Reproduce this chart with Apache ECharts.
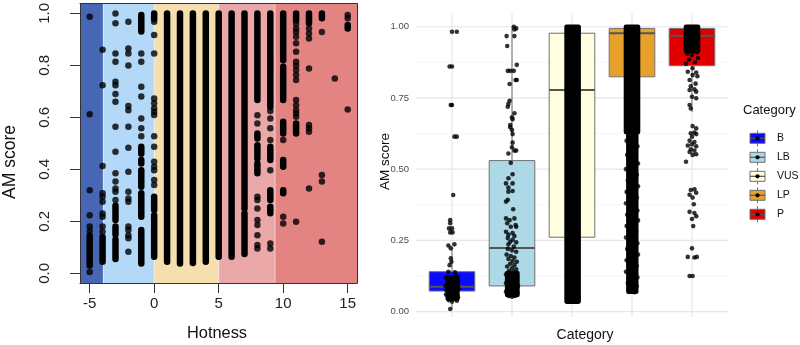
<!DOCTYPE html>
<html>
<head>
<meta charset="utf-8">
<title>AM score</title>
<script src="https://cdn.jsdelivr.net/npm/echarts@6/dist/echarts.min.js"></script>
<style>
  html, body { margin: 0; padding: 0; background: #fff; }
  #main { width: 800px; height: 345px; }
</style>
</head>
<body>
<div id="main"></div>
<script>
// ---- left panel: AM score against hotness ----
const hotnessTicks = [-5, 0, 5, 10, 15]
const amTicks = [0, 0.2, 0.4, 0.6, 0.8, 1.0]
const bandBreaks = [-3.95, 0, 5, 9.37] // hotness cut points of the coloured bands
// runs of overlapping points: [hotness, lowest score, highest score]
const hotRuns = [
  [-5, 0.03, 0.145],
  [-4, 0.045, 0.14],
  [-3, 0.205, 0.26], [-3, 0.15, 0.18], [-3, 0.055, 0.13],
  [-1, 0.93, 0.994], [-1, 0.46, 0.487], [-1, 0.423, 0.436], [-1, 0.333, 0.397], [-1, 0.218, 0.308], [-1, 0.038, 0.167],
  [0, 0.98, 1.0], [0, 0.244, 0.295], [0, 0.064, 0.224],
  [1, 0.045, 1.0], [2, 0.038, 1.0], [3, 0.04, 1.0], [4, 0.045, 1.0], [5, 0.064, 1.0], [6, 0.064, 1.0],
  [7, 0.25, 1.0], [7, 0.075, 0.23],
  [8, 0.667, 1.0], [8, 0.519, 0.538], [8, 0.442, 0.493], [8, 0.385, 0.423],
  [9, 0.64, 1.0], [9, 0.436, 0.487], [9, 0.282, 0.32], [9, 0.231, 0.256],
  [10, 0.82, 1.0], [10, 0.667, 0.795], [10, 0.538, 0.583], [10, 0.41, 0.436], [10, 0.308, 0.32],
  [11, 0.974, 1.0], [11, 0.538, 0.577],
  [12, 0.962, 1.0],
  [13, 0.981, 1.0],
  [15, 0.942, 0.955]
]
// single points: [hotness, score]
const hotPoints = [
  [-5, 0.987], [-5, 0.612], [-5, 0.32], [-5, 0.224], [-5, 0.18], [-5, 0.163], [-5, 0.005],
  [-4, 0.86], [-4, 0.724], [-4, 0.413], [-4, 0.308], [-4, 0.295], [-4, 0.276], [-4, 0.23], [-4, 0.218], [-4, 0.18], [-4, 0.16],
  [-3, 1.0], [-3, 0.962], [-3, 0.846], [-3, 0.814], [-3, 0.737], [-3, 0.724], [-3, 0.69], [-3, 0.66], [-3, 0.564],
  [-3, 0.468], [-3, 0.385], [-3, 0.353], [-3, 0.327], [-3, 0.314], [-3, 0.282],
  [-2, 0.968], [-2, 0.865], [-2, 0.846], [-2, 0.80], [-2, 0.644], [-2, 0.628], [-2, 0.564], [-2, 0.483], [-2, 0.391],
  [-2, 0.314], [-2, 0.288], [-2, 0.276], [-2, 0.18], [-2, 0.167], [-2, 0.147], [-2, 0.135], [-2, 0.083],
  [-1, 0.846], [-1, 0.814], [-1, 0.718], [-1, 0.68], [-1, 0.596], [-1, 0.558], [-1, 0.528],
  [0, 0.968], [0, 0.917], [0, 0.846], [0, 0.673], [0, 0.654], [0, 0.635], [0, 0.622], [0, 0.609], [0, 0.528],
  [0, 0.487], [0, 0.429], [0, 0.41], [0, 0.397], [0, 0.359], [0, 0.34],
  [8, 0.608], [8, 0.577], [8, 0.295], [8, 0.282], [8, 0.25], [8, 0.205], [8, 0.186], [8, 0.147], [8, 0.109], [8, 0.096],
  [9, 0.625], [9, 0.596], [9, 0.558], [9, 0.513], [9, 0.397], [9, 0.115], [9, 0.096],
  [10, 0.513], [10, 0.218], [10, 0.192],
  [11, 0.96], [11, 0.942], [11, 0.929], [11, 0.91], [11, 0.885], [11, 0.853], [11, 0.814], [11, 0.8], [11, 0.782],
  [11, 0.763], [11, 0.744], [11, 0.667], [11, 0.647], [11, 0.628], [11, 0.615], [11, 0.603], [11, 0.199],
  [12, 0.942], [12, 0.923], [12, 0.904], [12, 0.788], [12, 0.571], [12, 0.558], [12, 0.545], [12, 0.327],
  [13, 0.929], [13, 0.378], [13, 0.353], [13, 0.122],
  [14, 0.75],
  [15, 0.994], [15, 0.981], [15, 0.63]
]

// ---- right panel: AM score by category ----
const categories = ['B', 'LB', 'VUS', 'LP', 'P']
const scoreTicks = [0, 0.25, 0.5, 0.75, 1]
const scoreMinor = [0.125, 0.375, 0.625, 0.875]
// [low whisker, q1, median, q3, high whisker], same order as categories
const boxStats = [
  [0.009, 0.072, 0.087, 0.140, 0.228],
  [0.052, 0.090, 0.223, 0.530, 1.0],
  [0.035, 0.261, 0.778, 0.977, 1.0],
  [0.57, 0.824, 0.977, 0.994, 1.0],
  [0.70, 0.863, 0.968, 0.994, 1.0]
]
// jittered points: [offset from category centre, score]
const jitterB = [
  [0.0, 0.982], [0.08, 0.982], [-0.04, 0.86], [0.0, 0.86], [-0.02, 0.725], [0.0, 0.725], [0.04, 0.614], [0.08, 0.614],
  [0.02, 0.409], [-0.03, 0.321], [-0.03, 0.31], [-0.05, 0.292], [0.0, 0.292], [-0.03, 0.278], [0.01, 0.278],
  [-0.06, 0.232], [0.04, 0.236], [-0.02, 0.222], [-0.02, 0.187], [-0.01, 0.175], [-0.04, 0.163], [-0.06, 0.14],
  [0.05, 0.138], [-0.1, 0.12], [0.07, 0.125], [-0.11, 0.09], [0.11, 0.08], [-0.1, 0.06], [0.1, 0.05],
  [0.0, 0.035], [-0.05, 0.04], [0.08, 0.038], [0.1, 0.105], [-0.09, 0.075], [-0.03, 0.009]
]
const jitterLB = [
  [0.03, 1.0], [0.07, 0.994], [0.04, 0.99], [-0.09, 0.967], [0.04, 0.967], [-0.08, 0.932], [0.08, 0.866],
  [-0.07, 0.845], [-0.03, 0.845], [0.03, 0.845], [0.06, 0.813], [0.08, 0.813], [-0.04, 0.799], [-0.04, 0.74],
  [-0.06, 0.729], [-0.07, 0.719], [0.04, 0.696], [0.0, 0.682], [0.01, 0.675], [-0.03, 0.655], [-0.03, 0.647],
  [0.0, 0.637], [0.01, 0.623], [0.01, 0.593], [0.0, 0.577], [0.07, 0.565], [0.04, 0.565], [-0.06, 0.555],
  [-0.02, 0.522], [0.01, 0.482], [-0.06, 0.468], [-0.1, 0.45], [0.01, 0.45], [-0.06, 0.435], [-0.06, 0.421],
  [0.01, 0.423], [-0.1, 0.386], [-0.07, 0.392], [0.02, 0.359], [-0.1, 0.327], [0.04, 0.327], [-0.04, 0.321],
  [-0.08, 0.31], [0.06, 0.304], [-0.02, 0.298], [0.07, 0.298], [-0.1, 0.28], [0.01, 0.276], [-0.06, 0.27],
  [0.04, 0.265], [-0.07, 0.258], [0.01, 0.252], [-0.03, 0.245], [0.07, 0.243], [-0.06, 0.236], [0.03, 0.228],
  [-0.07, 0.22], [0.0, 0.215], [0.07, 0.21], [-0.09, 0.2], [-0.02, 0.195], [0.04, 0.19], [-0.06, 0.185],
  [0.01, 0.178], [0.08, 0.175], [-0.03, 0.168], [0.04, 0.163], [-0.08, 0.158], [0.0, 0.152], [0.07, 0.148],
  [-0.05, 0.142], [0.02, 0.138], [-0.1, 0.13], [0.06, 0.128], [-0.1, 0.1], [0.1, 0.09], [-0.1, 0.07],
  [0.09, 0.065], [0.0, 0.052], [-0.05, 0.055], [0.05, 0.055]
]
const jitterLP = [
  [-0.09, 0.6], [0.09, 0.58], [-0.08, 0.55], [0.1, 0.52], [-0.1, 0.5], [0.08, 0.48], [-0.07, 0.46], [0.1, 0.44],
  [-0.09, 0.42], [0.08, 0.4], [-0.1, 0.38], [0.09, 0.355], [-0.08, 0.34], [0.1, 0.32], [-0.09, 0.3], [0.07, 0.28],
  [-0.1, 0.26], [0.09, 0.24], [-0.08, 0.22], [0.1, 0.2], [-0.09, 0.18], [0.08, 0.16], [-0.1, 0.14], [0.09, 0.12],
  [-0.07, 0.1], [0.08, 0.09], [-0.05, 0.075], [0.04, 0.068]
]
const jitterP = [
  [-0.1, 0.87], [0.05, 0.875], [-0.05, 0.885], [0.1, 0.89], [0.0, 0.9], [-0.08, 0.905], [0.08, 0.91],
  [0.01, 0.854], [-0.07, 0.842], [0.07, 0.839], [0.01, 0.83], [0.09, 0.826], [-0.04, 0.813], [0.06, 0.80],
  [-0.02, 0.791], [-0.04, 0.778], [0.04, 0.78], [0.07, 0.772], [0.0, 0.754], [0.07, 0.749], [-0.04, 0.725],
  [-0.02, 0.713], [0.01, 0.651], [0.07, 0.643], [-0.02, 0.626], [0.04, 0.628], [0.07, 0.623], [0.0, 0.614],
  [-0.04, 0.60], [0.04, 0.595], [0.0, 0.587], [-0.07, 0.583], [0.07, 0.58], [-0.02, 0.57], [0.04, 0.565],
  [-0.04, 0.56], [0.01, 0.55], [0.07, 0.552], [-0.1, 0.526], [-0.02, 0.427], [0.04, 0.429], [0.07, 0.417],
  [0.01, 0.40], [-0.04, 0.41], [0.03, 0.377], [-0.04, 0.35], [0.04, 0.346], [0.07, 0.335], [0.0, 0.325],
  [0.02, 0.30], [0.0, 0.222], [-0.07, 0.192], [0.04, 0.19], [0.08, 0.192], [-0.04, 0.125], [0.01, 0.125]
]
// strips where jittered points merge: [category number, offset from, offset to, score from, score to]
const jitterDense = [
  [1, -0.07, 0.09, 0.045, 0.12],
  [2, -0.08, 0.09, 0.058, 0.135],
  [3, -0.09, 0.11, 0.035, 1.0],
  [4, -0.1, 0.1, 0.63, 1.0],
  [4, -0.06, 0.07, 0.07, 0.63],
  [5, -0.1, 0.1, 0.915, 1.0]
]

const FONT = '"Liberation Sans", Arial, Helvetica, sans-serif'
const bandColors = ['#4767b5', '#b3d8f8', '#f6dfae', '#eaa9a8', '#e38482']
const boxColors = ['#0a0aff', '#add8e6', '#ffffe0', '#e8a12a', '#e00000']

const hotMin = -5.75
const hotMax = 15.72
const edges = [hotMin].concat(bandBreaks, [hotMax])
const bands = edges.slice(0, -1).map((e, i) => [e, edges[i + 1], i])

const jitterAll = [jitterB, jitterLB, [], jitterLP, jitterP]
const jitterPoints = []
jitterAll.forEach((list, i) => {
  list.forEach(([off, v]) => jitterPoints.push([i + 1 + off, v]))
})

const gridLines = scoreTicks.map(v => [0, v, 1])
  .concat(scoreMinor.map(v => [0, v, 0]))
  .concat(categories.map((c, i) => [1, i + 1, 1]))

const chart = echarts.init(document.getElementById('main'), null, { renderer: 'canvas' })

const option = {
  animation: false,
  grid: [
    { left: 80, top: 3, width: 277, height: 280 },
    { left: 416, top: 13, width: 312, height: 304 }
  ],
  xAxis: [
    {
      gridIndex: 0, type: 'value', min: hotMin, max: hotMax, position: 'bottom', z: 10,
      axisLine: { show: true, onZero: false, lineStyle: { color: '#333', width: 1 } },
      axisTick: { show: true, length: 10, customValues: hotnessTicks, lineStyle: { color: '#333' } },
      axisLabel: { customValues: hotnessTicks, margin: 13, fontFamily: FONT, fontSize: 15, color: '#222', formatter: v => String(v) },
      splitLine: { show: false }
    },
    {
      gridIndex: 0, type: 'value', min: hotMin, max: hotMax, position: 'top', z: 10,
      axisLine: { show: true, onZero: false, lineStyle: { color: '#333', width: 1 } },
      axisTick: { show: false }, axisLabel: { show: false }, splitLine: { show: false }
    },
    {
      gridIndex: 1, type: 'value', min: 0.4, max: 5.6,
      axisLine: { show: false }, axisTick: { show: false }, axisLabel: { show: false }, splitLine: { show: false }
    }
  ],
  yAxis: [
    {
      gridIndex: 0, type: 'value', min: -0.037, max: 1.038, position: 'left', z: 10,
      axisLine: { show: true, onZero: false, lineStyle: { color: '#333', width: 1 } },
      axisTick: { show: true, length: 10, customValues: amTicks, lineStyle: { color: '#333' } },
      axisLabel: { customValues: amTicks, rotate: 90, margin: 28, fontFamily: FONT, fontSize: 15, color: '#222', formatter: v => v.toFixed(1) },
      splitLine: { show: false }
    },
    {
      gridIndex: 0, type: 'value', min: -0.037, max: 1.038, position: 'right', z: 10,
      axisLine: { show: true, onZero: false, lineStyle: { color: '#333', width: 1 } },
      axisTick: { show: false }, axisLabel: { show: false }, splitLine: { show: false }
    },
    {
      gridIndex: 1, type: 'value', min: -0.019, max: 1.048,
      axisLine: { show: false }, axisTick: { show: false },
      axisLabel: { customValues: scoreTicks, margin: 7, fontFamily: FONT, fontSize: 9.5, color: '#4d4d4d', formatter: v => v.toFixed(2) },
      splitLine: { show: false }
    }
  ],
  series: [
    {
      // coloured hotness bands, with a faint light seam on the left edge of each
      type: 'custom', xAxisIndex: 0, yAxisIndex: 0, z: 1, silent: true,
      data: bands,
      renderItem(params, api) {
        const cs = params.coordSys
        const x1 = api.coord([api.value(0), 0])[0]
        const x2 = api.coord([api.value(1), 0])[0]
        const children = [{
          type: 'rect',
          shape: { x: x1, y: cs.y, width: x2 - x1, height: cs.height },
          style: { fill: bandColors[api.value(2)] }
        }]
        if (api.value(2) > 0) {
          children.push({
            type: 'line',
            shape: { x1: x1, y1: cs.y, x2: x1, y2: cs.y + cs.height },
            style: { stroke: 'rgba(255,255,255,0.45)', lineWidth: 1 }
          })
        }
        return { type: 'group', children }
      }
    },
    {
      type: 'custom', xAxisIndex: 0, yAxisIndex: 0, z: 2, silent: true,
      data: hotRuns,
      renderItem(params, api) {
        const r = 3.25
        const top = api.coord([api.value(0), api.value(2)])
        const bot = api.coord([api.value(0), api.value(1)])
        return {
          type: 'rect',
          shape: { x: top[0] - r, y: top[1] - r, width: 2 * r, height: bot[1] - top[1] + 2 * r, r: r },
          style: { fill: '#000' }
        }
      }
    },
    {
      type: 'scatter', xAxisIndex: 0, yAxisIndex: 0, z: 3, silent: true,
      symbolSize: 6.5, itemStyle: { color: '#000' },
      data: hotPoints
    },
    {
      // panel grid lines
      type: 'custom', xAxisIndex: 2, yAxisIndex: 2, z: 1, silent: true,
      data: gridLines,
      renderItem(params, api) {
        const cs = params.coordSys
        const major = api.value(2) === 1
        const style = { stroke: major ? '#e6e6e6' : '#f2f2f2', lineWidth: major ? 1.1 : 0.7 }
        if (api.value(0) === 0) {
          const y = api.coord([1, api.value(1)])[1]
          return { type: 'line', shape: { x1: cs.x, y1: y, x2: cs.x + cs.width, y2: y }, style }
        }
        const x = api.coord([api.value(1), 0])[0]
        return { type: 'line', shape: { x1: x, y1: cs.y, x2: x, y2: cs.y + cs.height }, style }
      }
    },
    {
      // boxes
      type: 'custom', xAxisIndex: 2, yAxisIndex: 2, z: 2, silent: true,
      data: boxStats.map((s, i) => [i + 1].concat(s)),
      renderItem(params, api) {
        const c = api.value(0)
        const hw = 0.38
        const pLo = api.coord([c, api.value(1)])
        const pQ1 = api.coord([c, api.value(2)])
        const pMd = api.coord([c, api.value(3)])
        const pQ3 = api.coord([c, api.value(4)])
        const pHi = api.coord([c, api.value(5)])
        const left = api.coord([c - hw, 0])[0]
        const right = api.coord([c + hw, 0])[0]
        const line = { stroke: '#707070', lineWidth: 1 }
        return {
          type: 'group',
          children: [
            { type: 'line', shape: { x1: pLo[0], y1: pLo[1], x2: pQ1[0], y2: pQ1[1] }, style: line },
            { type: 'line', shape: { x1: pQ3[0], y1: pQ3[1], x2: pHi[0], y2: pHi[1] }, style: line },
            {
              type: 'rect',
              shape: { x: left, y: pQ3[1], width: right - left, height: pQ1[1] - pQ3[1] },
              style: { fill: boxColors[params.dataIndex], stroke: '#707070', lineWidth: 1 }
            },
            { type: 'line', shape: { x1: left, y1: pMd[1], x2: right, y2: pMd[1] }, style: { stroke: '#555', lineWidth: 2 } }
          ]
        }
      }
    },
    {
      type: 'custom', xAxisIndex: 2, yAxisIndex: 2, z: 3, silent: true,
      data: jitterDense,
      renderItem(params, api) {
        const r = 2.3
        const x = api.value(0)
        const p1 = api.coord([x + api.value(1), api.value(4)])
        const p2 = api.coord([x + api.value(2), api.value(3)])
        return {
          type: 'rect',
          shape: { x: p1[0] - r, y: p1[1] - r, width: p2[0] - p1[0] + 2 * r, height: p2[1] - p1[1] + 2 * r, r: r },
          style: { fill: '#000' }
        }
      }
    },
    {
      type: 'scatter', xAxisIndex: 2, yAxisIndex: 2, z: 4, silent: true,
      symbolSize: 4.6, itemStyle: { color: '#000' },
      data: jitterPoints
    }
  ],
  graphic: [
    {
      type: 'text', x: 217, y: 333,
      style: { text: 'Hotness', font: '16.4px ' + FONT, fill: '#111', align: 'center', verticalAlign: 'middle', textAlign: 'center', textVerticalAlign: 'middle' }
    },
    {
      type: 'text', x: 10, y: 162, rotation: Math.PI / 2,
      style: { text: 'AM score', font: '17.5px ' + FONT, fill: '#111', align: 'center', verticalAlign: 'middle', textAlign: 'center', textVerticalAlign: 'middle' }
    },
    {
      type: 'text', x: 385, y: 161.5, rotation: Math.PI / 2,
      style: { text: 'AM score', font: '13.5px ' + FONT, fill: '#111', align: 'center', verticalAlign: 'middle', textAlign: 'center', textVerticalAlign: 'middle' }
    },
    {
      type: 'text', x: 585, y: 335,
      style: { text: 'Category', font: '14px ' + FONT, fill: '#111', align: 'center', verticalAlign: 'middle', textAlign: 'center', textVerticalAlign: 'middle' }
    },
    {
      type: 'text', x: 743, y: 110,
      style: { text: 'Category', font: '13px ' + FONT, fill: '#111', align: 'left', verticalAlign: 'middle', textAlign: 'left', textVerticalAlign: 'middle' }
    }
  ].concat(categories.map((name, i) => {
    const y = 138.3 + i * 19
    return {
      type: 'group',
      children: [
        { type: 'line', shape: { x1: 757.5, y1: y - 8, x2: 757.5, y2: y + 8 }, style: { stroke: '#707070', lineWidth: 1 } },
        { type: 'rect', shape: { x: 750, y: y - 5, width: 15, height: 10 }, style: { fill: boxColors[i], stroke: '#707070', lineWidth: 1 } },
        { type: 'line', shape: { x1: 750, y1: y, x2: 765, y2: y }, style: { stroke: '#555', lineWidth: 1.2 } },
        { type: 'circle', shape: { cx: 757.5, cy: y, r: 2.1 }, style: { fill: '#000' } },
        {
          type: 'text', x: 777, y: y,
          style: { text: name, font: '10.5px ' + FONT, fill: '#111', align: 'left', verticalAlign: 'middle', textAlign: 'left', textVerticalAlign: 'middle' }
        }
      ]
    }
  }))
}

chart.setOption(option)
</script>
</body>
</html>
